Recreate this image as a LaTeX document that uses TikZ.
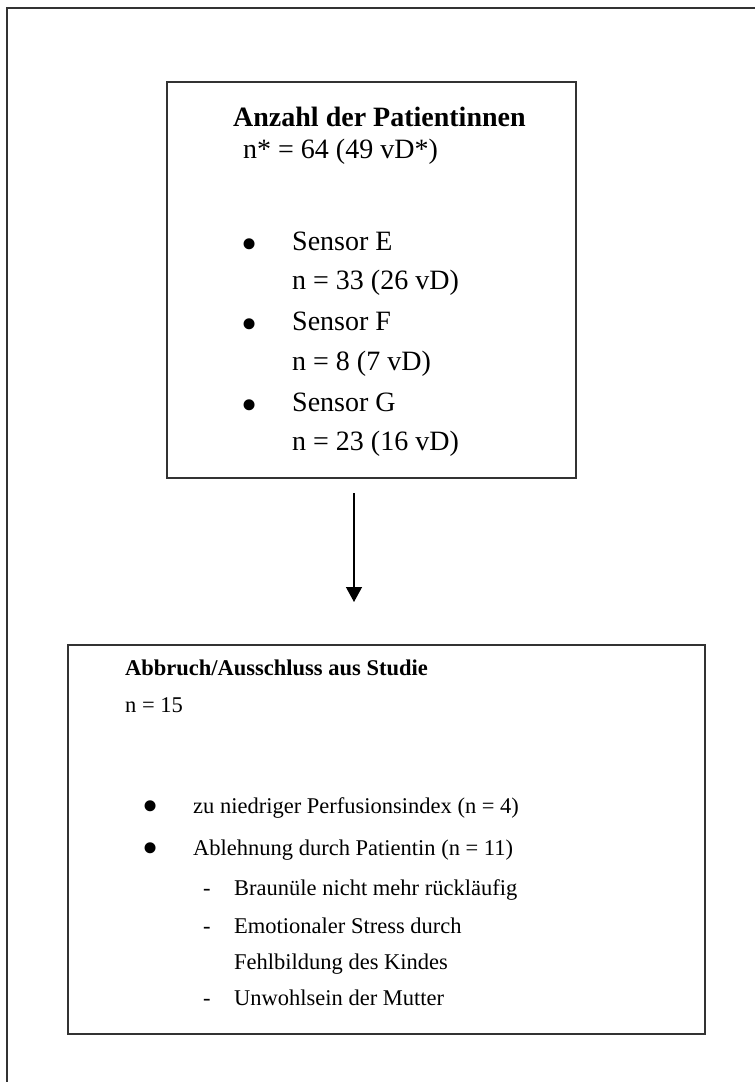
\documentclass[tikz,border=0pt]{standalone}
\usepackage{fontspec}
\setmainfont{Liberation Serif}
\usepackage{tikz}
\usetikzlibrary{positioning}
\usetikzlibrary{arrows.meta}
\colorlet{linecol}{black!80}
\tikzstyle{frame}=[linecol,line width=1.3]
\tikzstyle{box}=[draw=linecol,line width=1.3,rectangle,inner sep=0]
\tikzstyle{txt}=[anchor=base west,inner sep=0,font=\fontsize{28}{34}\selectfont]
\tikzstyle{stxt}=[anchor=base west,inner sep=0,font=\fontsize{22.5}{27}\selectfont]
\tikzstyle{dot}=[anchor=center,inner sep=0,font=\fontsize{46}{50}\selectfont]
\tikzstyle{arrow}=[-{Triangle[length=15,width=16]},line width=1.3]

\begin{document}
\begin{tikzpicture}[x=1pt,y=-1pt]
  \useasboundingbox (0,0) rectangle (755,1082);
  \def\xa{292} % text x, upper box
  \def\xb{193} % text x, lower box
  \def\xc{234} % text x, sub items

  % FRAME
  \draw[frame] (7,1082) |- (755,8);

  % UPPER BOX
  \node[box,minimum width=409pt,minimum height=396pt] (patients) at (371.5,280) {};
  \node[txt] (ptitle) at (233,126) {\bfseries Anzahl der Patientinnen};
  \node[txt] (ptotal) at (243,158) {n* = 64 (49 vD*)};
  \node[dot] (bE) at (250,249) {\textbullet};
  \node[txt] (sE) at (\xa,250) {Sensor E};
  \node[txt] (nE) at (\xa,289) {n = 33 (26 vD)};
  \node[dot] (bF) at (250,329) {\textbullet};
  \node[txt] (sF) at (\xa,330) {Sensor F};
  \node[txt] (nF) at (\xa,370) {n = 8 (7 vD)};
  \node[dot] (bG) at (250,410) {\textbullet};
  \node[txt] (sG) at (\xa,411) {Sensor G};
  \node[txt] (nG) at (\xa,450) {n = 23 (16 vD)};

  % ARROW
  \coordinate (arrowstart) at (354,493);
  \coordinate (arrowend) at (354,602);
  \draw[arrow] (arrowstart) -- (arrowend);

  % LOWER BOX
  \node[box,minimum width=637pt,minimum height=389pt] (dropout) at (386.5,839.5) {};
  \node[stxt] (dtitle) at (125,675) {\bfseries Abbruch/Ausschluss aus Studie};
  \node[stxt] (dtotal) at (125,712) {n = 15};
  \node[dot] (bPI) at (151,811) {\textbullet};
  \node[stxt] (perf) at (\xb,813) {zu niedriger Perfusionsindex (n = 4)};
  \node[dot] (bAb) at (151,853) {\textbullet};
  \node[stxt] (refuse) at (\xb,855) {Ablehnung durch Patientin (n = 11)};
  \node[stxt] (d1) at (203,895) {-};
  \node[stxt] (cannula) at (\xc,895) {Braunüle nicht mehr rückläufig};
  \node[stxt] (d2) at (203,933) {-};
  \node[stxt] (stress) at (\xc,933) {Emotionaler Stress durch};
  \node[stxt] (malform) at (\xc,969) {Fehlbildung des Kindes};
  \node[stxt] (d3) at (203,1005) {-};
  \node[stxt] (unwell) at (\xc,1005) {Unwohlsein der Mutter};

\end{tikzpicture}
\end{document}
